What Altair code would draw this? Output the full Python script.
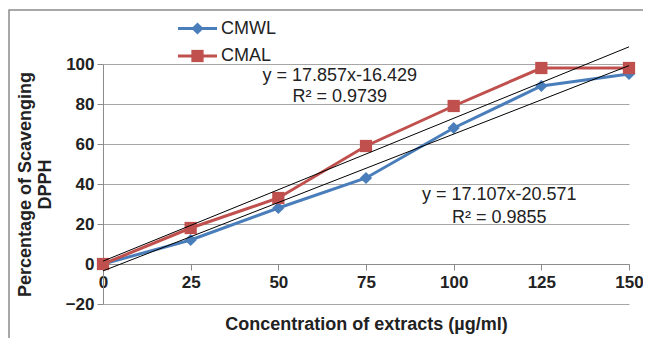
import altair as alt
import pandas as pd

# ---- data ----
series_names = ["CMWL", "CMAL"]
conc = [0, 25, 50, 75, 100, 125, 150]
cmwl = [0, 12, 28, 43, 68, 89, 95]
cmal = [0, 18, 33, 59, 79, 98, 98]

ann_text = ["y = 17.857x-16.429", "R² = 0.9739", "y = 17.107x-20.571", "R² = 0.9855"]
ann_x = [67.5, 67.5, 113, 113]
ann_y = [94, 83.5, 34.5, 23]

x_ticks = [0, 25, 50, 75, 100, 125, 150]
y_ticks = [-20, 0, 20, 40, 60, 80, 100]

# ---- styles ----
colors = ["#4A7EBB", "#C0504D"]
shapes = ["diamond", "square"]
FONT = "Liberation Sans"
DARK = "#222222"
GRAY = "#8c8c8c"

rows = []
for name, vals in zip(series_names, [cmwl, cmal]):
    for c, v in zip(conc, vals):
        rows.append({"series": name, "conc": c, "value": v})
df = pd.DataFrame(rows)
ann_df = pd.DataFrame({"text": ann_text, "x": ann_x, "y": ann_y})
leg_df = pd.DataFrame({"series": series_names, "row": list(range(len(series_names)))})

x_scale = alt.Scale(domain=[0, 150], nice=False, zero=False)
y_scale = alt.Scale(domain=[-20, 100], nice=False)

x_axis = alt.Axis(values=x_ticks, tickCount=len(x_ticks) + 2, grid=False, offset=-40,
                  title="Concentration of extracts (µg/ml)",
                  titleFontSize=18, titleFontWeight="bold", titleColor=DARK, titlePadding=25,
                  labelFontSize=17, labelFontWeight="bold", labelColor=DARK, labelPadding=4,
                  tickSize=6, tickColor=GRAY, domainColor=GRAY, labelFlush=False, labelOverlap=False)
y_axis = alt.Axis(values=y_ticks, tickCount=len(y_ticks) + 2, title=["Percentage of Scavenging", "DPPH"],
                  titleFontSize=18, titleFontWeight="bold", titleColor=DARK, titlePadding=11,
                  titleLineHeight=20, labelOverlap=False,
                  labelFontSize=17, labelFontWeight="bold", labelColor=DARK, labelPadding=3,
                  tickSize=6, tickColor=GRAY, domainColor=GRAY, gridColor="#a6a6a6")

color = alt.Color("series:N", scale=alt.Scale(domain=series_names, range=colors), legend=None)
shape = alt.Shape("series:N", scale=alt.Scale(domain=series_names, range=shapes), legend=None)

base = alt.Chart(df)

frame = alt.Chart(pd.DataFrame({"a": [0]})).mark_rect(
    fill="transparent", stroke=GRAY, strokeWidth=1.5
).encode(x=alt.value(-94), x2=alt.value(600), y=alt.value(-54), y2=alt.value(320))

lines = base.mark_line(strokeWidth=3).encode(
    x=alt.X("conc:Q", scale=x_scale, axis=x_axis),
    y=alt.Y("value:Q", scale=y_scale, axis=y_axis),
    color=color,
)

points = base.mark_point(filled=True, size=150, opacity=1).encode(
    x=alt.X("conc:Q", scale=x_scale),
    y=alt.Y("value:Q", scale=y_scale),
    color=color,
    shape=shape,
)

trend = base.transform_regression(
    "conc", "value", groupby=["series"], extent=[0, 150]
).mark_line(color="black", strokeWidth=1).encode(
    x=alt.X("conc:Q", scale=x_scale),
    y=alt.Y("value:Q", scale=y_scale),
    detail="series:N",
)

ann = alt.Chart(ann_df).mark_text(fontSize=18, color=DARK, font=FONT, align="center", baseline="middle").encode(
    x=alt.X("x:Q", scale=x_scale),
    y=alt.Y("y:Q", scale=y_scale),
    text="text:N",
)

main = alt.layer(frame, lines, points, trend, ann)

# ---- legend drawn as marks (line + marker + label) ----
leg_y = alt.Y("row:Q", scale=alt.Scale(domain=[0, 1], range=[-35.5, -8], nice=False, zero=False), axis=None)
leg_line = alt.Chart(leg_df).mark_rule(strokeWidth=3).encode(
    x=alt.value(75), x2=alt.value(114), y=leg_y, color=color)
leg_pt = alt.Chart(leg_df).mark_point(filled=True, size=150, opacity=1).encode(
    x=alt.value(94.5), y=leg_y, color=color, shape=shape)
leg_txt = alt.Chart(leg_df).mark_text(fontSize=18, color=DARK, font=FONT, align="left", baseline="middle").encode(
    x=alt.value(118), y=leg_y, text="series:N")
legend = alt.layer(leg_line, leg_pt, leg_txt)

chart = alt.layer(main, legend).resolve_scale(y="independent").properties(
    width=526, height=240,
    autosize=alt.AutoSizeParams(type="none"),
    padding={"left": 95, "top": 56, "right": 14, "bottom": 34},
).configure(font=FONT).configure_view(strokeWidth=0)

chart.save("out.html", embed_options={"renderer": "svg", "actions": False})
